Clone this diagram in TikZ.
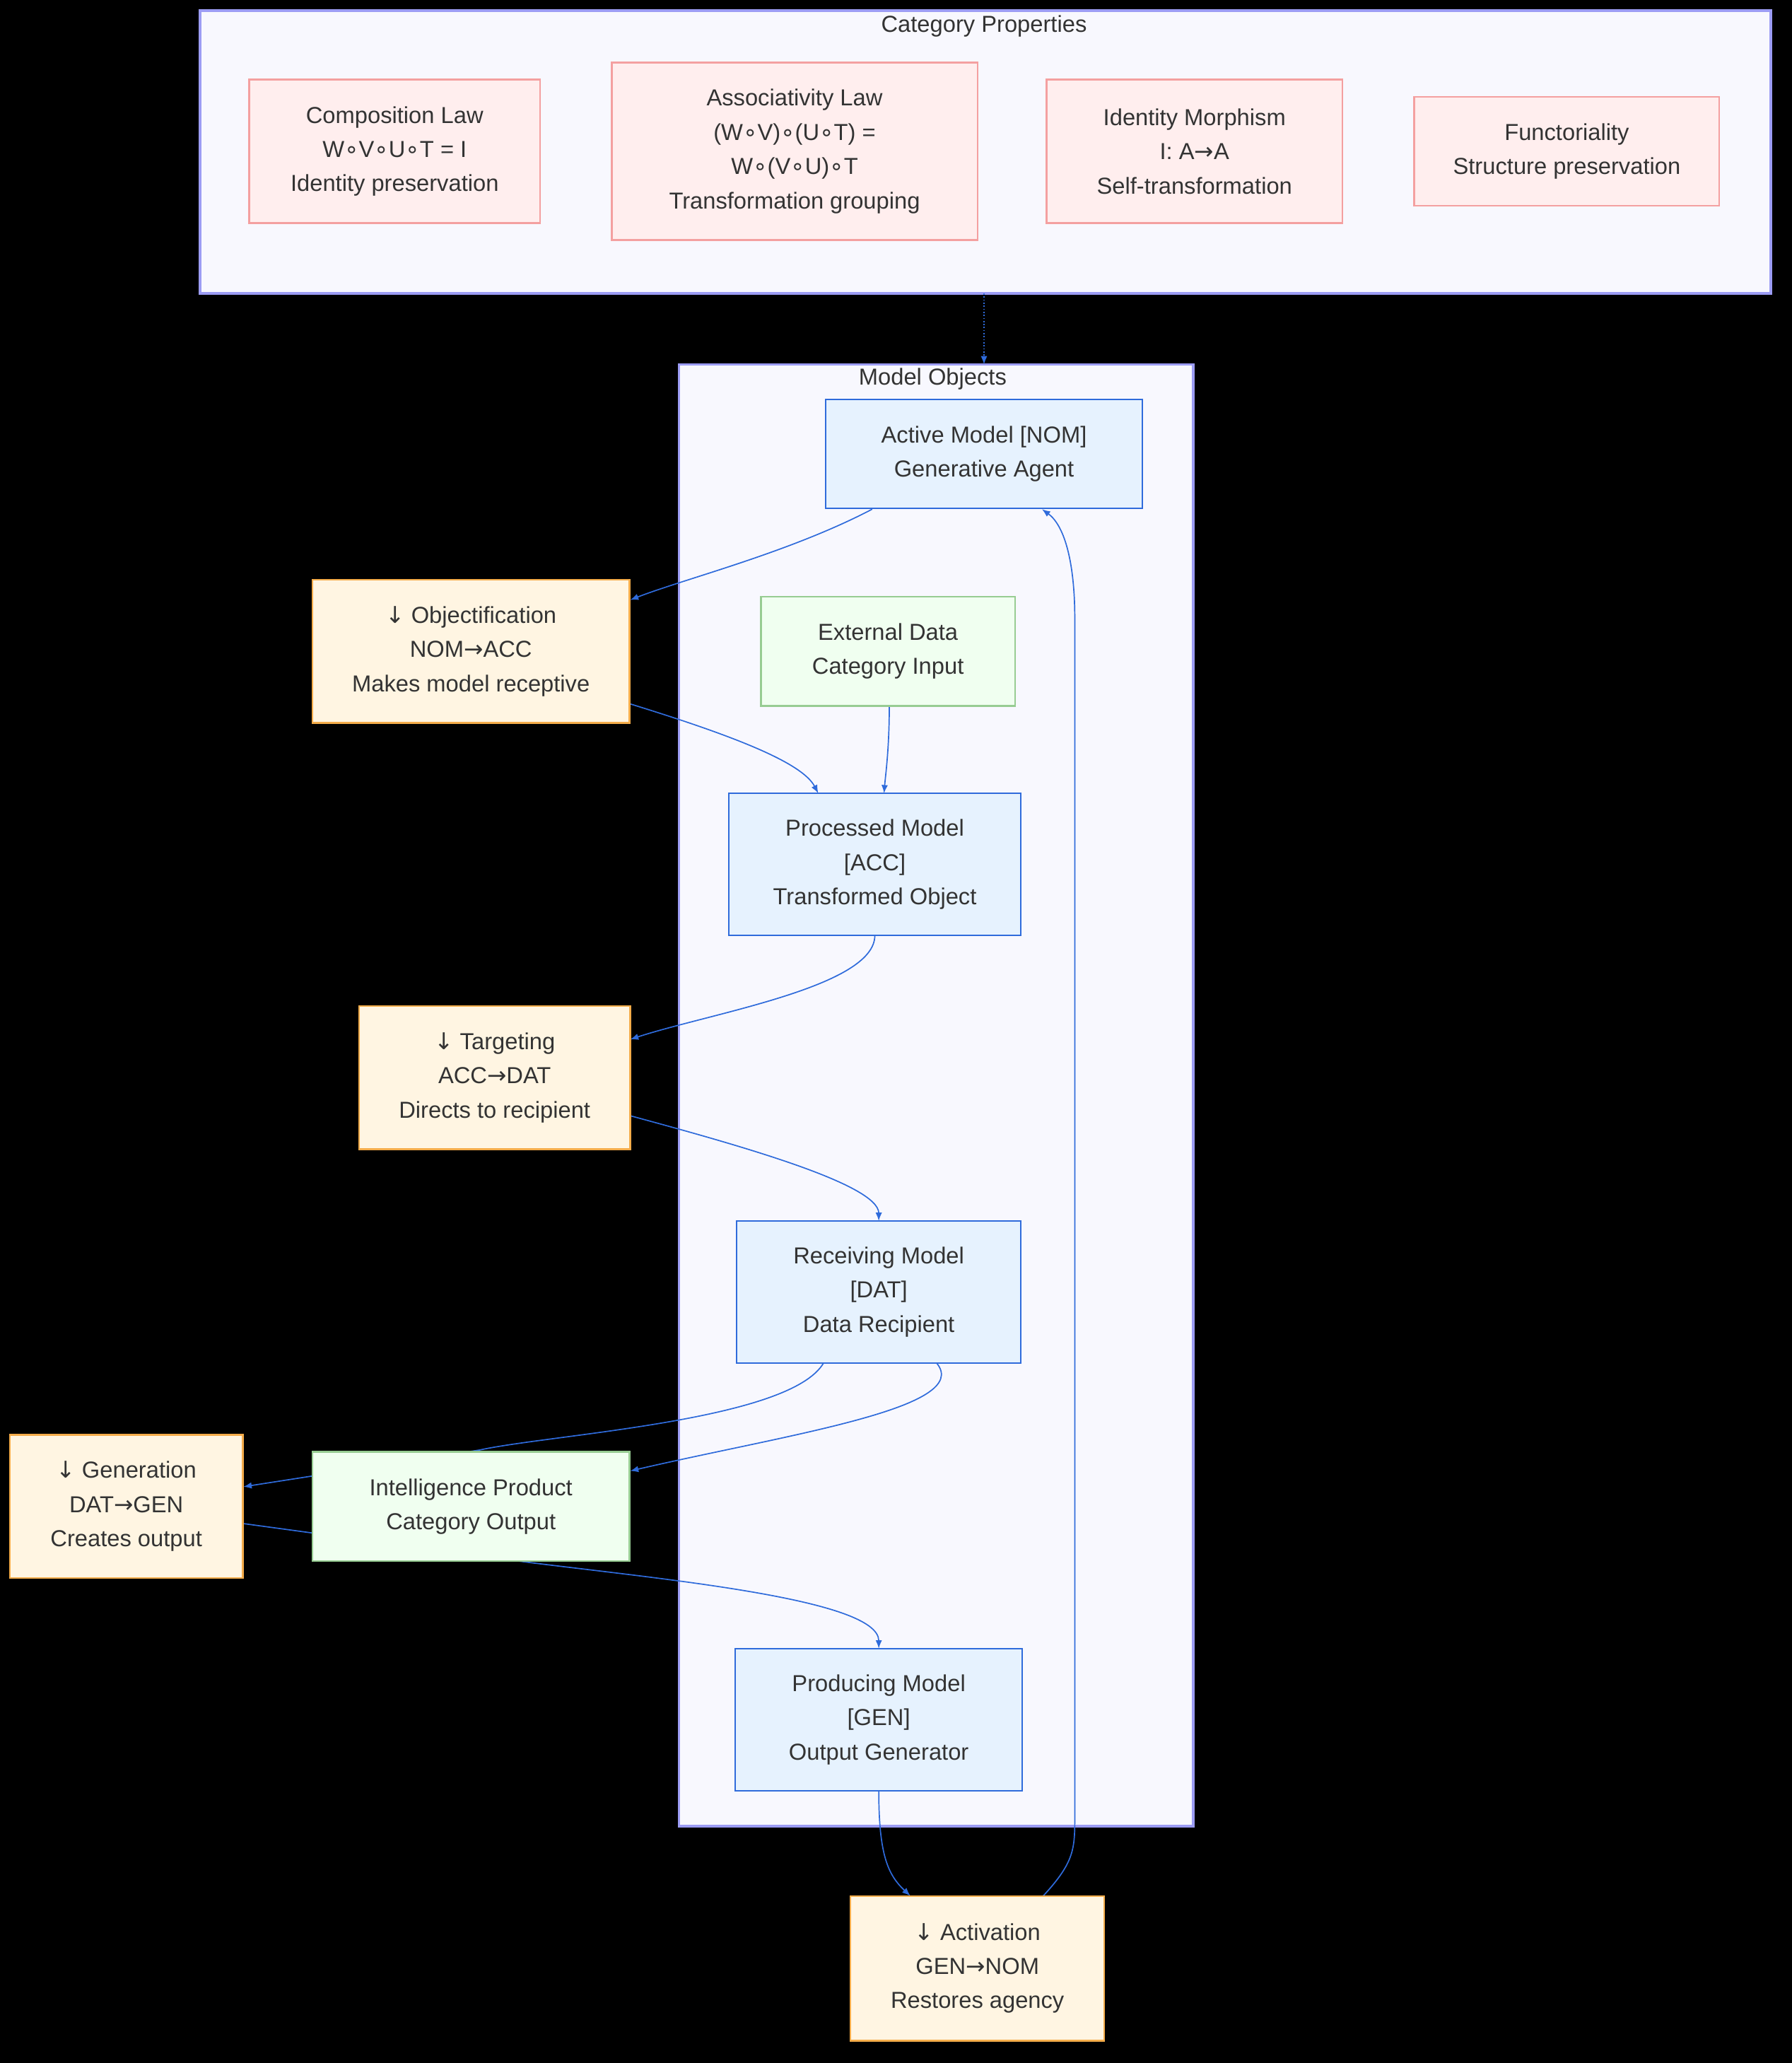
\documentclass[tikz,border=0pt]{standalone}
\usepackage{fontspec}
\setmainfont{Liberation Sans}
\newfontfamily\djv{DejaVu Sans}
\usetikzlibrary{arrows.meta}
\definecolor{clf}{HTML}{F8F8FE}\definecolor{cld}{HTML}{9C9CF4}
\definecolor{mf}{HTML}{E6F2FE}\definecolor{md}{HTML}{2F6BDB}
\definecolor{of}{HTML}{FFF5E2}\definecolor{od}{HTML}{F4AC4A}
\definecolor{gf}{HTML}{F0FFF0}\definecolor{gd}{HTML}{97CC92}
\definecolor{pf}{HTML}{FFEEEE}\definecolor{pd}{HTML}{F4A0A0}
\definecolor{tx}{HTML}{333333}
\begin{document}
\begin{tikzpicture}[x=0.05cm,y=-0.05cm,
 bx/.style={draw,line width=1.8pt,align=center,text=tx,font=\fontsize{25}{37}\selectfont,inner sep=0pt},
 m/.style={bx,fill=mf,draw=md},
 o/.style={bx,fill=of,draw=od},
 g/.style={bx,fill=gf,draw=gd},
 p/.style={bx,fill=pf,draw=pd},
 e/.style={draw=md,line width=1.3pt,-{Latex[length=9pt,width=7pt]}},
 tt/.style={text=tx,font=\fontsize{25}{30}\selectfont}]
\fill[black] (0,0) rectangle (1362,1568);
\useasboundingbox (0,0) rectangle (1362,1568);
\draw[fill=clf,draw=cld,line width=2.5pt] (152,8) rectangle (1346,223);
\node[tt] (t1) at (748,20) {Category Properties};
\draw[fill=clf,draw=cld,line width=2.5pt] (516,277) rectangle (907,1388);
\node[tt] (t2) at (709,288) {Model Objects};
\coordinate (c1) at (748,223); \coordinate (c2) at (748,277);
\draw[e,dotted] (c1)--(c2);
\node[p,minimum width=11.05cm,minimum height=5.45cm] (comp) at (300,115) {Composition Law\\W{\djv∘}V{\djv∘}U{\djv∘}T = I\\Identity preservation};
\node[p,minimum width=13.9cm,minimum height=6.75cm] (assoc) at (604,115) {Associativity Law\\(W{\djv∘}V){\djv∘}(U{\djv∘}T) =\\W{\djv∘}(V{\djv∘}U){\djv∘}T\\Transformation grouping};
\node[p,minimum width=11.25cm,minimum height=5.45cm] (ident) at (908,115) {Identity Morphism\\I: A{\djv→}A\\Self-transformation};
\node[p,minimum width=11.6cm,minimum height=4.15cm] (func) at (1191,115) {Functoriality\\Structure preservation};
% edges
\draw[e] (663,387) .. controls (600,420) and (520,440) .. (479,456);
\draw[e] (479,535) .. controls (560,560) and (610,580) .. (622,603);
\draw[e] (676,536) .. controls (676,570) and (673,590) .. (672,603);
\draw[e] (665,711) .. controls (665,750) and (540,770) .. (479,790);
\draw[e] (479,848) .. controls (560,870) and (668,900) .. (668,928);
\draw[e] (626,1036) .. controls (600,1080) and (420,1090) .. (365,1102) -- (185,1130);
\draw[e] (712,1036) .. controls (740,1070) and (600,1090) .. (479,1118);
\draw[e] (185,1158) -- (398,1187) .. controls (500,1200) and (668,1215) .. (668,1253);
\draw[e] (668,1361) .. controls (668,1410) and (675,1425) .. (692,1441);
\draw[e] (793,1441) .. controls (817,1415) and (817,1405) .. (817,1380) -- (817,470) .. controls (817,430) and (810,400) .. (792,387);
% nodes
\node[m,minimum width=12.05cm,minimum height=4.15cm] (act) at (748,345) {Active Model [NOM]\\Generative Agent};
\node[g,minimum width=9.65cm,minimum height=4.15cm] (ext) at (675,495) {External Data\\Category Input};
\node[m,minimum width=11.1cm,minimum height=5.4cm] (proc) at (665,657) {Processed Model\\{[ACC]}\\Transformed Object};
\node[m,minimum width=10.8cm,minimum height=5.4cm] (recv) at (668,982) {Receiving Model\\{[DAT]}\\Data Recipient};
\node[m,minimum width=10.9cm,minimum height=5.4cm] (prod) at (668,1307) {Producing Model\\{[GEN]}\\Output Generator};
\node[o,minimum width=12.05cm,minimum height=5.45cm] (obj) at (358,495) {{\djv↓} Objectification\\NOM{\djv→}ACC\\Makes model receptive};
\node[o,minimum width=10.3cm,minimum height=5.45cm] (targ) at (376,819) {{\djv↓} Targeting\\ACC{\djv→}DAT\\Directs to recipient};
\node[g,minimum width=12.05cm,minimum height=4.15cm] (intel) at (358,1145) {Intelligence Product\\Category Output};
\node[o,minimum width=8.85cm,minimum height=5.45cm] (gen) at (96,1145) {{\djv↓} Generation\\DAT{\djv→}GEN\\Creates output};
\node[o,minimum width=9.65cm,minimum height=5.5cm] (actv) at (743,1496) {{\djv↓} Activation\\GEN{\djv→}NOM\\Restores agency};
\end{tikzpicture}
\end{document}
